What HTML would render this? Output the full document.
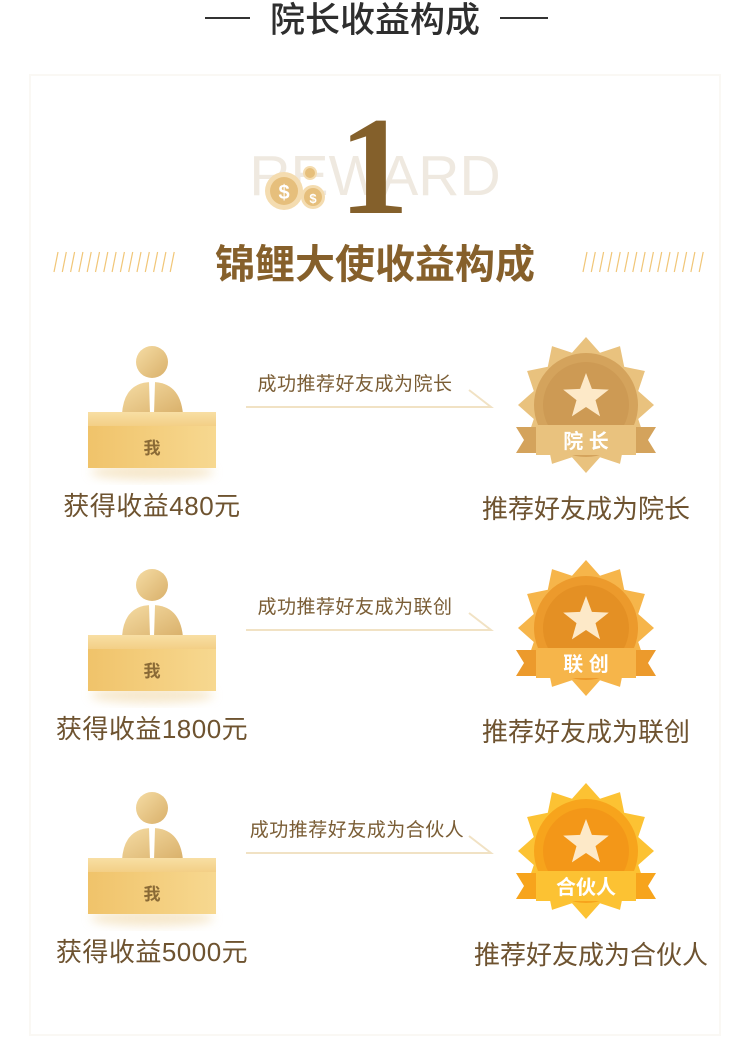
<!DOCTYPE html>
<html><head><meta charset="utf-8"><style>
body{margin:0;background:#fff;}
svg{display:block;font-family:"Liberation Sans","Noto Sans CJK SC",sans-serif;}
</style></head><body>
<svg id="s" width="750" height="1061" viewBox="0 0 750 1061">
<defs>
<linearGradient id="box" x1="0" y1="0" x2="1" y2="0"><stop offset="0" stop-color="#f0c36a"/><stop offset="1" stop-color="#f7d890"/></linearGradient>
<linearGradient id="boxtop" x1="0" y1="0" x2="0" y2="1"><stop offset="0" stop-color="#f8dfa4"/><stop offset="1" stop-color="#f3cf86"/></linearGradient>
<linearGradient id="head" x1="0" y1="0" x2="1" y2="1"><stop offset="0" stop-color="#f5dca4"/><stop offset="1" stop-color="#d9b06a"/></linearGradient>
<filter id="sh" x="-30%" y="-30%" width="160%" height="160%"><feGaussianBlur stdDeviation="5"/></filter>
</defs>
<rect x="30" y="75" width="690" height="960" fill="#fff" stroke="#faf8f4" stroke-width="2"/>
<line x1="205" y1="18" x2="250" y2="18" stroke="#333" stroke-width="2"/>
<line x1="500" y1="18" x2="548" y2="18" stroke="#333" stroke-width="2"/>
<text x="375" y="32" text-anchor="middle" font-size="35" font-weight="500" fill="#2e2e2e">院长收益构成</text>
<text x="375" y="195" text-anchor="middle" font-size="57" font-weight="300" fill="#efe9e0">REWARD</text>
<g>
<circle cx="284" cy="191" r="19" fill="#f4dcb0"/><circle cx="284" cy="191" r="14" fill="#e6bf7c"/>
<text x="284" y="199" text-anchor="middle" font-size="20" font-weight="bold" fill="#fff">$</text>
<circle cx="313" cy="197" r="12" fill="#f4dcb0"/><circle cx="313" cy="197" r="9" fill="#e6bf7c"/>
<text x="313" y="203" text-anchor="middle" font-size="13" font-weight="bold" fill="#fff">$</text>
<circle cx="310" cy="173" r="7" fill="#f4dcb0"/><circle cx="310" cy="173" r="5" fill="#e6bf7c"/>
</g>
<text x="374" y="213" text-anchor="middle" font-size="140" font-weight="bold" font-family="Liberation Serif,serif" fill="#84602b">1</text>
<g id="hatchL"></g>
<g id="hatchR"></g>
<text x="375" y="278" text-anchor="middle" font-size="40" font-weight="bold" fill="#86602b">锦鲤大使收益构成</text>
<g id="rows"></g>
</svg>
<script>
const earnings=["获得收益480元","获得收益1800元","获得收益5000元"];
const arrowLabels=["成功推荐好友成为院长","成功推荐好友成为联创","成功推荐好友成为合伙人"];
const badgeLabels=["院 长","联 创","合伙人"];
const targetLabels=["推荐好友成为院长","推荐好友成为联创","推荐好友成为合伙人"];
const badgeColors=[["#e9c27e","#d4a35c","#c8954f"],["#f6b54a","#ec9a2c","#e08a20"],["#fcc233","#f7a41c","#f09015"]];
const NS="http://www.w3.org/2000/svg";
function mk(t,a,p){const e=document.createElementNS(NS,t);for(const k in a)e.setAttribute(k,a[k]);p.appendChild(e);return e;}
for(let i=0;i<15;i++){
 mk('line',{x1:54+i*8.3,y1:272,x2:58+i*8.3,y2:252,stroke:'#f1c677','stroke-width':1.2},document.getElementById('hatchL'));
 mk('line',{x1:583+i*8.3,y1:272,x2:587+i*8.3,y2:252,stroke:'#f1c677','stroke-width':1.2},document.getElementById('hatchR'));
}
const rows=document.getElementById('rows');
for(let i=0;i<earnings.length;i++){
 const g=mk('g',{transform:`translate(0,${i*223})`},rows);
 
 
 const p=mk('g',{},g);
 
 
 mk('ellipse',{cx:152,cy:472,rx:62,ry:8,fill:'#f0d8a8',opacity:0.6,filter:'url(#sh)'},p);
 mk('circle',{cx:152,cy:362,r:16,fill:'url(#head)'},p);
 mk('path',{d:'M122,414 Q124,382 152,382 Q180,382 183,414 Z',fill:'url(#head)'},p);
 mk('path',{d:'M149,382 L155,382 L154,414 L150,414 Z',fill:'#fff'},p);
 mk('rect',{x:88,y:412,width:128,height:14,fill:'url(#boxtop)'},p);
 mk('rect',{x:88,y:426,width:128,height:42,fill:'url(#box)'},p);
 const me=mk('text',{x:152,y:454,'text-anchor':'middle','font-size':17,'font-weight':'bold',fill:'#8a6a36'},p);me.textContent='我';
 
 
 const e=mk('text',{x:152,y:515,'text-anchor':'middle','font-size':26,fill:'#6e5330','letter-spacing':0.5},g);e.textContent=earnings[i];
 
 
 const a=mk('text',{x:i==2?357:355,y:390,'text-anchor':'middle','font-size':19,fill:'#7a5d35','letter-spacing':0.5},g);a.textContent=arrowLabels[i];
 
 
 const ar=mk('path',{d:'M246,407 L491,407 L469,390',fill:'none',stroke:'#f1e2c4','stroke-width':2},g);
 
 
 const b=mk('g',{},g);
 
 
 const c=badgeColors[i],cx=586,cy=405;
 let pts=[];for(let k=0;k<24;k++){const ang=(k*15-90)*Math.PI/180;const r=k%2==0?68:54;pts.push((cx+r*Math.cos(ang)).toFixed(1)+','+(cy+r*Math.sin(ang)).toFixed(1));}
 mk('polygon',{points:pts.join(' '),fill:c[0]},b);
 mk('circle',{cx,cy,r:52,fill:c[1]},b);
 mk('circle',{cx,cy,r:43,fill:c[2],opacity:0.6},b);
 let st=[];for(let k=0;k<10;k++){const ang=(k*36-90)*Math.PI/180;const r=k%2==0?24:10;st.push((cx+r*Math.cos(ang)).toFixed(1)+','+(cy-8+r*Math.sin(ang)).toFixed(1));}
 mk('polygon',{points:st.join(' '),fill:'#fde9c8'},b);
 mk('path',{d:`M${cx-70},${cy+22} L${cx+70},${cy+22} L${cx+62},${cy+35} L${cx+70},${cy+48} L${cx-70},${cy+48} L${cx-62},${cy+35} Z`,fill:c[1]},b);
 mk('rect',{x:cx-50,y:cy+20,width:100,height:30,fill:c[0]},b);
 const bl=mk('text',{x:cx,y:cy+43,'text-anchor':'middle','font-size':20,'font-weight':'bold',fill:'#fff'},b);bl.textContent=badgeLabels[i];
 
 
 const t=mk('text',{x:i==2?591:586,y:518,'text-anchor':'middle','font-size':26,fill:'#6e5330'},g);t.textContent=targetLabels[i];
 
 
}
</script>
</body></html>
